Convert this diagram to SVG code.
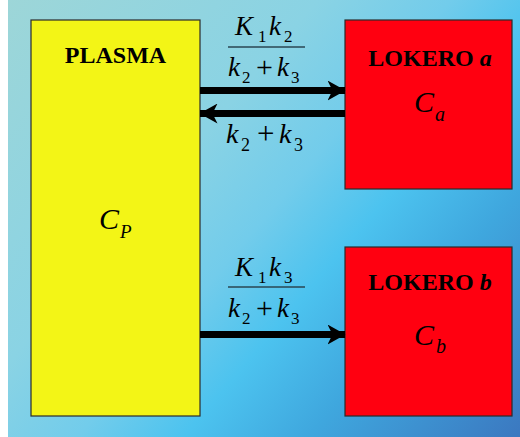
<svg xmlns="http://www.w3.org/2000/svg" width="520" height="437" viewBox="0 0 520 437">
<defs>
<linearGradient id="bg" gradientUnits="userSpaceOnUse" x1="8" y1="0" x2="520" y2="437">
<stop offset="0" stop-color="#9dd6d8"/>
<stop offset="0.35" stop-color="#8ad3e4"/>
<stop offset="0.5" stop-color="#72cceb"/>
<stop offset="0.62" stop-color="#4cc3ef"/>
<stop offset="0.76" stop-color="#3fa7de"/>
<stop offset="1" stop-color="#3b78c0"/>
</linearGradient>
<marker id="ah" viewBox="0 0 18 20" refX="17.5" refY="10" markerUnits="userSpaceOnUse" markerWidth="18" markerHeight="20" orient="auto">
<path d="M0,0 L18,10 L0,20 L5,10 Z" fill="#000"/>
</marker>
<style>
.box{stroke:#2b2b2b;stroke-width:1.2}
.lbl{font-family:"Liberation Serif","Times New Roman",serif;font-weight:bold;font-size:24px;fill:#000}
.m{font-family:"Liberation Serif","Times New Roman",serif;font-style:italic;fill:#000}
.r{font-style:normal}
.arrow{stroke:#000;stroke-width:7;fill:none}
.bar{stroke:#2a4652;stroke-width:1.5}
</style>
</defs>
<rect x="8" y="0" width="512" height="437" fill="url(#bg)"/>

<g id="plasma">
<rect class="box" x="31" y="20" width="169" height="396" fill="#f3f516"/>
<text class="lbl" x="115.5" y="63" text-anchor="middle">PLASMA</text>
<text class="m" font-size="30"><tspan x="99" y="229">C</tspan><tspan font-size="19" x="120" y="238">P</tspan></text>
</g>

<g id="lokero-a">
<rect class="box" x="345" y="20" width="167" height="169" fill="#ff0010"/>
<text class="lbl" x="430" y="66" text-anchor="middle">LOKERO <tspan font-style="italic">a</tspan></text>
<text class="m" font-size="30"><tspan x="414" y="112">C</tspan><tspan font-size="20" x="435" y="121">a</tspan></text>
</g>

<g id="lokero-b">
<rect class="box" x="345" y="247" width="167" height="169" fill="#ff0010"/>
<text class="lbl" x="430" y="290" text-anchor="middle">LOKERO <tspan font-style="italic">b</tspan></text>
<text class="m" font-size="30"><tspan x="414" y="345">C</tspan><tspan font-size="20" x="436" y="353">b</tspan></text>
</g>

<g id="connectors">
<line class="arrow" x1="200" y1="90.5" x2="345" y2="90.5" marker-end="url(#ah)"/>
<line class="arrow" x1="345" y1="113.5" x2="200" y2="113.5" marker-end="url(#ah)"/>
<line class="arrow" x1="200" y1="334.5" x2="345" y2="334.5" marker-end="url(#ah)"/>

<text class="m" font-size="27"><tspan x="235" y="35">K</tspan><tspan class="r" font-size="17" x="258" y="42">1</tspan><tspan x="269" y="35">k</tspan><tspan class="r" font-size="17" x="284" y="42">2</tspan></text>
<line class="bar" x1="228" y1="47" x2="305" y2="47"/>
<text class="m" font-size="27"><tspan x="228" y="76">k</tspan><tspan class="r" font-size="17" x="242" y="83">2</tspan><tspan class="r" font-size="30" x="256" y="77">+</tspan><tspan x="277" y="76">k</tspan><tspan class="r" font-size="17" x="291" y="83">3</tspan></text>

<text class="m" font-size="28"><tspan x="226" y="143">k</tspan><tspan class="r" font-size="18" x="241" y="151">2</tspan><tspan class="r" font-size="31" x="257" y="144">+</tspan><tspan x="279" y="143">k</tspan><tspan class="r" font-size="18" x="294" y="151">3</tspan></text>

<text class="m" font-size="27"><tspan x="235" y="276">K</tspan><tspan class="r" font-size="17" x="258" y="283">1</tspan><tspan x="269" y="276">k</tspan><tspan class="r" font-size="17" x="284" y="283">3</tspan></text>
<line class="bar" x1="228" y1="287" x2="305" y2="287"/>
<text class="m" font-size="27"><tspan x="228" y="317">k</tspan><tspan class="r" font-size="17" x="242" y="324">2</tspan><tspan class="r" font-size="30" x="256" y="318">+</tspan><tspan x="277" y="317">k</tspan><tspan class="r" font-size="17" x="291" y="324">3</tspan></text>
</g>
</svg>
